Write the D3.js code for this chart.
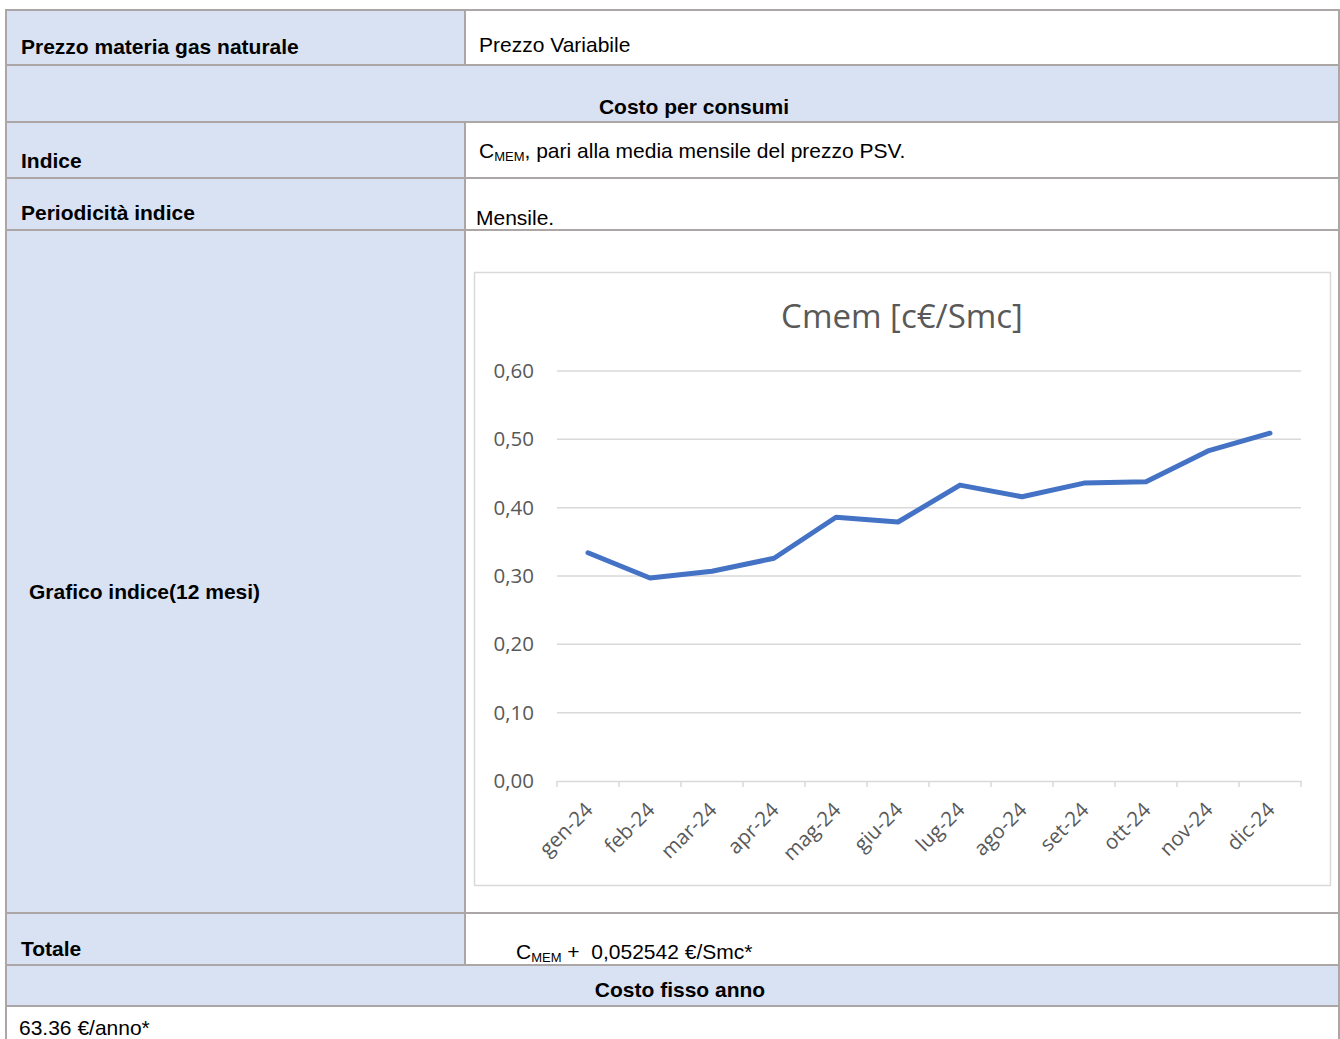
<!DOCTYPE html>
<html><head><meta charset="utf-8">
<script src="https://cdn.jsdelivr.net/npm/d3@7/dist/d3.min.js"></script>
<style>html,body{margin:0;padding:0;background:#fff;}svg{display:block;}</style>
</head><body>
<script>
const months = ["gen-24","feb-24","mar-24","apr-24","mag-24","giu-24","lug-24","ago-24","set-24","ott-24","nov-24","dic-24"];
const cmem = [0.334,0.297,0.307,0.326,0.386,0.379,0.433,0.416,0.436,0.438,0.483,0.509];
const yTicks = [0,0.1,0.2,0.3,0.4,0.5,0.6];
const chartTitle = "Cmem [c€/Smc]";

const W=1340,H=1039;
const svg=d3.select("body").append("svg").attr("width",W).attr("height",H);
const blue="#d9e2f3", border="#aca6a6";
const TF="'Liberation Sans', Arial, sans-serif";
const CF="'Open Sans', 'Noto Sans', sans-serif";
const FS=21;

const xL=6, xM=465, xR=1339;
const rows=[10,65,122,178,230,913,965,1006,1045];
const fullRows=[1,6];
const g=svg.append("g");
for(let i=0;i<rows.length-1;i++){
  const y0=rows[i], y1=rows[i+1];
  if(fullRows.includes(i)){
    g.append("rect").attr("x",xL).attr("y",y0).attr("width",xR-xL).attr("height",y1-y0).attr("fill",blue);
  } else if(i<7){
    g.append("rect").attr("x",xL).attr("y",y0).attr("width",xM-xL).attr("height",y1-y0).attr("fill",blue);
  }
}
rows.slice(0,8).forEach(y=>g.append("line").attr("x1",xL-1).attr("x2",xR+1).attr("y1",y).attr("y2",y).attr("stroke",border).attr("stroke-width",2));
g.append("line").attr("x1",xL).attr("x2",xL).attr("y1",rows[0]).attr("y2",H).attr("stroke",border).attr("stroke-width",2);
g.append("line").attr("x1",xR).attr("x2",xR).attr("y1",rows[0]).attr("y2",H).attr("stroke",border).attr("stroke-width",2);
[[0,1],[2,6]].forEach(([a,b])=>g.append("line").attr("x1",xM).attr("x2",xM).attr("y1",rows[a]).attr("y2",rows[b]).attr("stroke",border).attr("stroke-width",2));

function txt(x,y,s,opt={}){
  return g.append("text").attr("x",x).attr("y",y).attr("font-family",TF).attr("font-size",opt.size||FS)
    .attr("font-weight",opt.bold?"bold":"normal").attr("text-anchor",opt.anchor||"start").attr("fill","#000").text(s);
}
function cmemTxt(x,y,rest){
  const t=g.append("text").attr("x",x).attr("y",y).attr("font-family",TF).attr("font-size",FS).attr("fill","#000").attr("xml:space","preserve");
  t.append("tspan").text("C");
  t.append("tspan").attr("font-size",13).attr("dy",3).text("MEM");
  t.append("tspan").attr("dy",-3).text(rest);
}
txt(21,54,"Prezzo materia gas naturale",{bold:true});
txt(479,52,"Prezzo Variabile");
txt(694,114,"Costo per consumi",{bold:true,anchor:"middle"});
txt(21,168,"Indice",{bold:true});
cmemTxt(479,158,", pari alla media mensile del prezzo PSV.");
txt(21,220,"Periodicità indice",{bold:true});
txt(476,225,"Mensile.");
txt(29,599,"Grafico indice(12 mesi)",{bold:true});
txt(21,956,"Totale",{bold:true});
cmemTxt(516,959," +  0,052542 €/Smc*");
txt(680,997,"Costo fisso anno",{bold:true,anchor:"middle"});
txt(19,1035,"63.36 €/anno*");

// chart box
const c=svg.append("g");
c.append("rect").attr("x",474.5).attr("y",272.5).attr("width",856).attr("height",613).attr("fill","#fff").attr("stroke","#d9d9d9").attr("stroke-width",1.5);
c.append("text").attr("x",902).attr("y",328).attr("text-anchor","middle").attr("font-family",CF).attr("font-size",33).attr("fill","#595959").text(chartTitle);

const x=d3.scaleBand().domain(months).range([557,1301]);
const y=d3.scaleLinear().domain([0,0.6]).range([781,371]);

c.selectAll(".grid").data(yTicks.slice(1)).join("line").attr("x1",557).attr("x2",1301)
  .attr("y1",d=>y(d)).attr("y2",d=>y(d)).attr("stroke","#d9d9d9").attr("stroke-width",1.5);

const fmt=d=>d3.format(".2f")(d).replace(".",",");
c.selectAll(".yl").data(yTicks).join("text").attr("x",534).attr("y",d=>y(d)+7).attr("text-anchor","end")
  .attr("font-family",CF).attr("font-size",20.5).attr("fill","#595959").text(fmt);

const xa=c.append("g").attr("transform","translate(0,781)").call(d3.axisBottom(x).tickSize(0).tickFormat(""));
xa.select(".domain").attr("stroke","#d9d9d9").attr("stroke-width",1.5);
const bounds=months.map(m=>x(m)).concat([x.range()[1]]);
c.selectAll(".tk").data(bounds).join("line").attr("x1",d=>d).attr("x2",d=>d).attr("y1",781).attr("y2",787)
  .attr("stroke","#d9d9d9").attr("stroke-width",1.5);
c.selectAll(".xl").data(months).join("text")
  .attr("transform",d=>`translate(${x(d)+x.bandwidth()/2+1},${806}) rotate(-45)`)
  .attr("text-anchor","end").attr("font-family",CF).attr("font-size",20.5).attr("fill","#595959").attr("dy","0.35em").text(d=>d);

const line=d3.line().x((d,i)=>x(months[i])+x.bandwidth()/2).y(d=>y(d));
c.append("path").datum(cmem).attr("d",line).attr("fill","none").attr("stroke","#4472c4").attr("stroke-width",5)
  .attr("stroke-linejoin","round").attr("stroke-linecap","round");
</script>
</body></html>
